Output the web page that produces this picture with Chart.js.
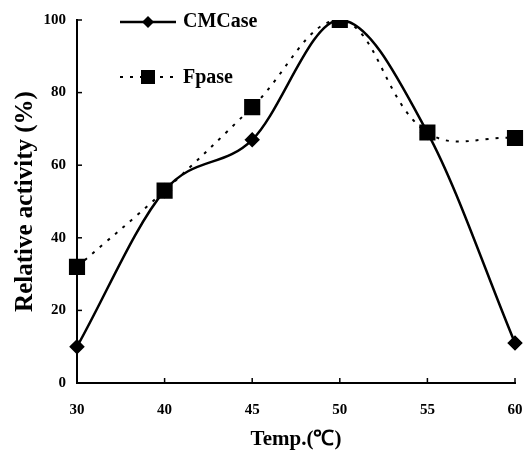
<!DOCTYPE html>
<html>
<head>
<meta charset="utf-8">
<script src="https://cdn.jsdelivr.net/npm/chart.js@4.4.0/dist/chart.umd.min.js"></script>
<style>
    body { margin: 0; background: #fff; }
    #wrap { width: 527px; height: 454px; }
</style>
</head>
<body>
<div id="wrap"><canvas id="chart" width="527" height="454"></canvas></div>
<script>

// =========================
// DATA
// =========================

const temps = ["30", "40", "45", "50", "55", "60"];
const cmcase = [10, 53, 67, 100, 69, 11];
const fpase = [32, 53, 76, 100, 69, 67.5];
const yTicks = [0, 20, 40, 60, 80, 100];

const serif = "'Liberation Serif', 'Times New Roman', serif";

// inward ticks + legend drawn by hand
const extras = {
    id: "extras",
    afterDraw(chart) {
        const ctx = chart.ctx;
        const x = chart.scales.x;
        const y = chart.scales.y;
        const area = chart.chartArea;

        ctx.save();
        ctx.strokeStyle = "#000";
        ctx.lineWidth = 1.5;

        yTicks.forEach(v => {
            const py = y.getPixelForValue(v);
            ctx.beginPath();
            ctx.moveTo(area.left, py);
            ctx.lineTo(area.left + 5, py);
            ctx.stroke();
        });

        temps.forEach((t, i) => {
            const px = x.getPixelForValue(i);
            ctx.beginPath();
            ctx.moveTo(px, area.bottom);
            ctx.lineTo(px, area.bottom - 5);
            ctx.stroke();
        });

        // legend
        const lx = 120;
        ctx.lineWidth = 2.5;
        ctx.beginPath();
        ctx.moveTo(lx, 22);
        ctx.lineTo(lx + 56, 22);
        ctx.stroke();
        ctx.fillStyle = "#000";
        ctx.beginPath();
        ctx.moveTo(lx + 28, 16);
        ctx.lineTo(lx + 34, 22);
        ctx.lineTo(lx + 28, 28);
        ctx.lineTo(lx + 22, 22);
        ctx.closePath();
        ctx.fill();

        ctx.lineWidth = 2;
        ctx.setLineDash([3, 7]);
        ctx.beginPath();
        ctx.moveTo(lx, 77);
        ctx.lineTo(lx + 56, 77);
        ctx.stroke();
        ctx.setLineDash([]);
        ctx.fillRect(lx + 21, 70, 14, 14);

        ctx.font = "bold 20px " + serif;
        ctx.textBaseline = "middle";
        ctx.fillText("CMCase", lx + 63, 22);
        ctx.fillText("Fpase", lx + 63, 78);
        ctx.restore();
    }
};

new Chart(document.getElementById("chart"), {
    type: "line",
    data: {
        labels: temps,
        datasets: [
            {
                label: "CMCase",
                data: cmcase,
                borderColor: "#000",
                backgroundColor: "#000",
                borderWidth: 2.5,
                pointStyle: "rectRot",
                pointRadius: 6,
                tension: 0.35,
                cubicInterpolationMode: "monotone"
            },
            {
                label: "Fpase",
                data: fpase,
                borderColor: "#000",
                backgroundColor: "#000",
                borderWidth: 2,
                borderDash: [3, 7],
                pointStyle: "rect",
                pointRadius: 10,
                tension: 0.4
            }
        ]
    },
    options: {
        responsive: false,
        animation: false,
        layout: {
            padding: { top: 20, right: 7, left: 0, bottom: 0 }
        },
        plugins: {
            legend: { display: false },
            tooltip: { enabled: false }
        },
        scales: {
            x: {
                offset: false,
                border: { color: "#000", width: 2 },
                grid: { display: false },
                afterFit(scale) {
                    scale.height = 71;
                    scale.paddingRight = 0;
                    scale.paddingLeft = 0;
                },
                ticks: {
                    color: "#000",
                    padding: 10,
                    font: { family: serif, weight: "bold", size: 15 }
                },
                title: {
                    display: true,
                    text: "Temp.(℃)",
                    color: "#000",
                    padding: { top: 0, bottom: 2 },
                    font: { family: serif, weight: "bold", size: 21 }
                }
            },
            y: {
                min: 0,
                max: 100,
                border: { color: "#000", width: 2 },
                grid: { display: false },
                afterBuildTicks(scale) {
                    scale.ticks = yTicks.map(v => ({ value: v }));
                },
                afterFit(scale) {
                    scale.width = 77;
                    scale.paddingTop = 0;
                    scale.paddingBottom = 0;
                },
                ticks: {
                    color: "#000",
                    padding: 3,
                    font: { family: serif, weight: "bold", size: 15 }
                },
                title: {
                    display: true,
                    text: "Relative activity (%)",
                    color: "#000",
                    padding: { top: 11, bottom: 0 },
                    font: { family: serif, weight: "bold", size: 25 }
                }
            }
        }
    },
    plugins: [extras]
});

</script>
</body>
</html>
